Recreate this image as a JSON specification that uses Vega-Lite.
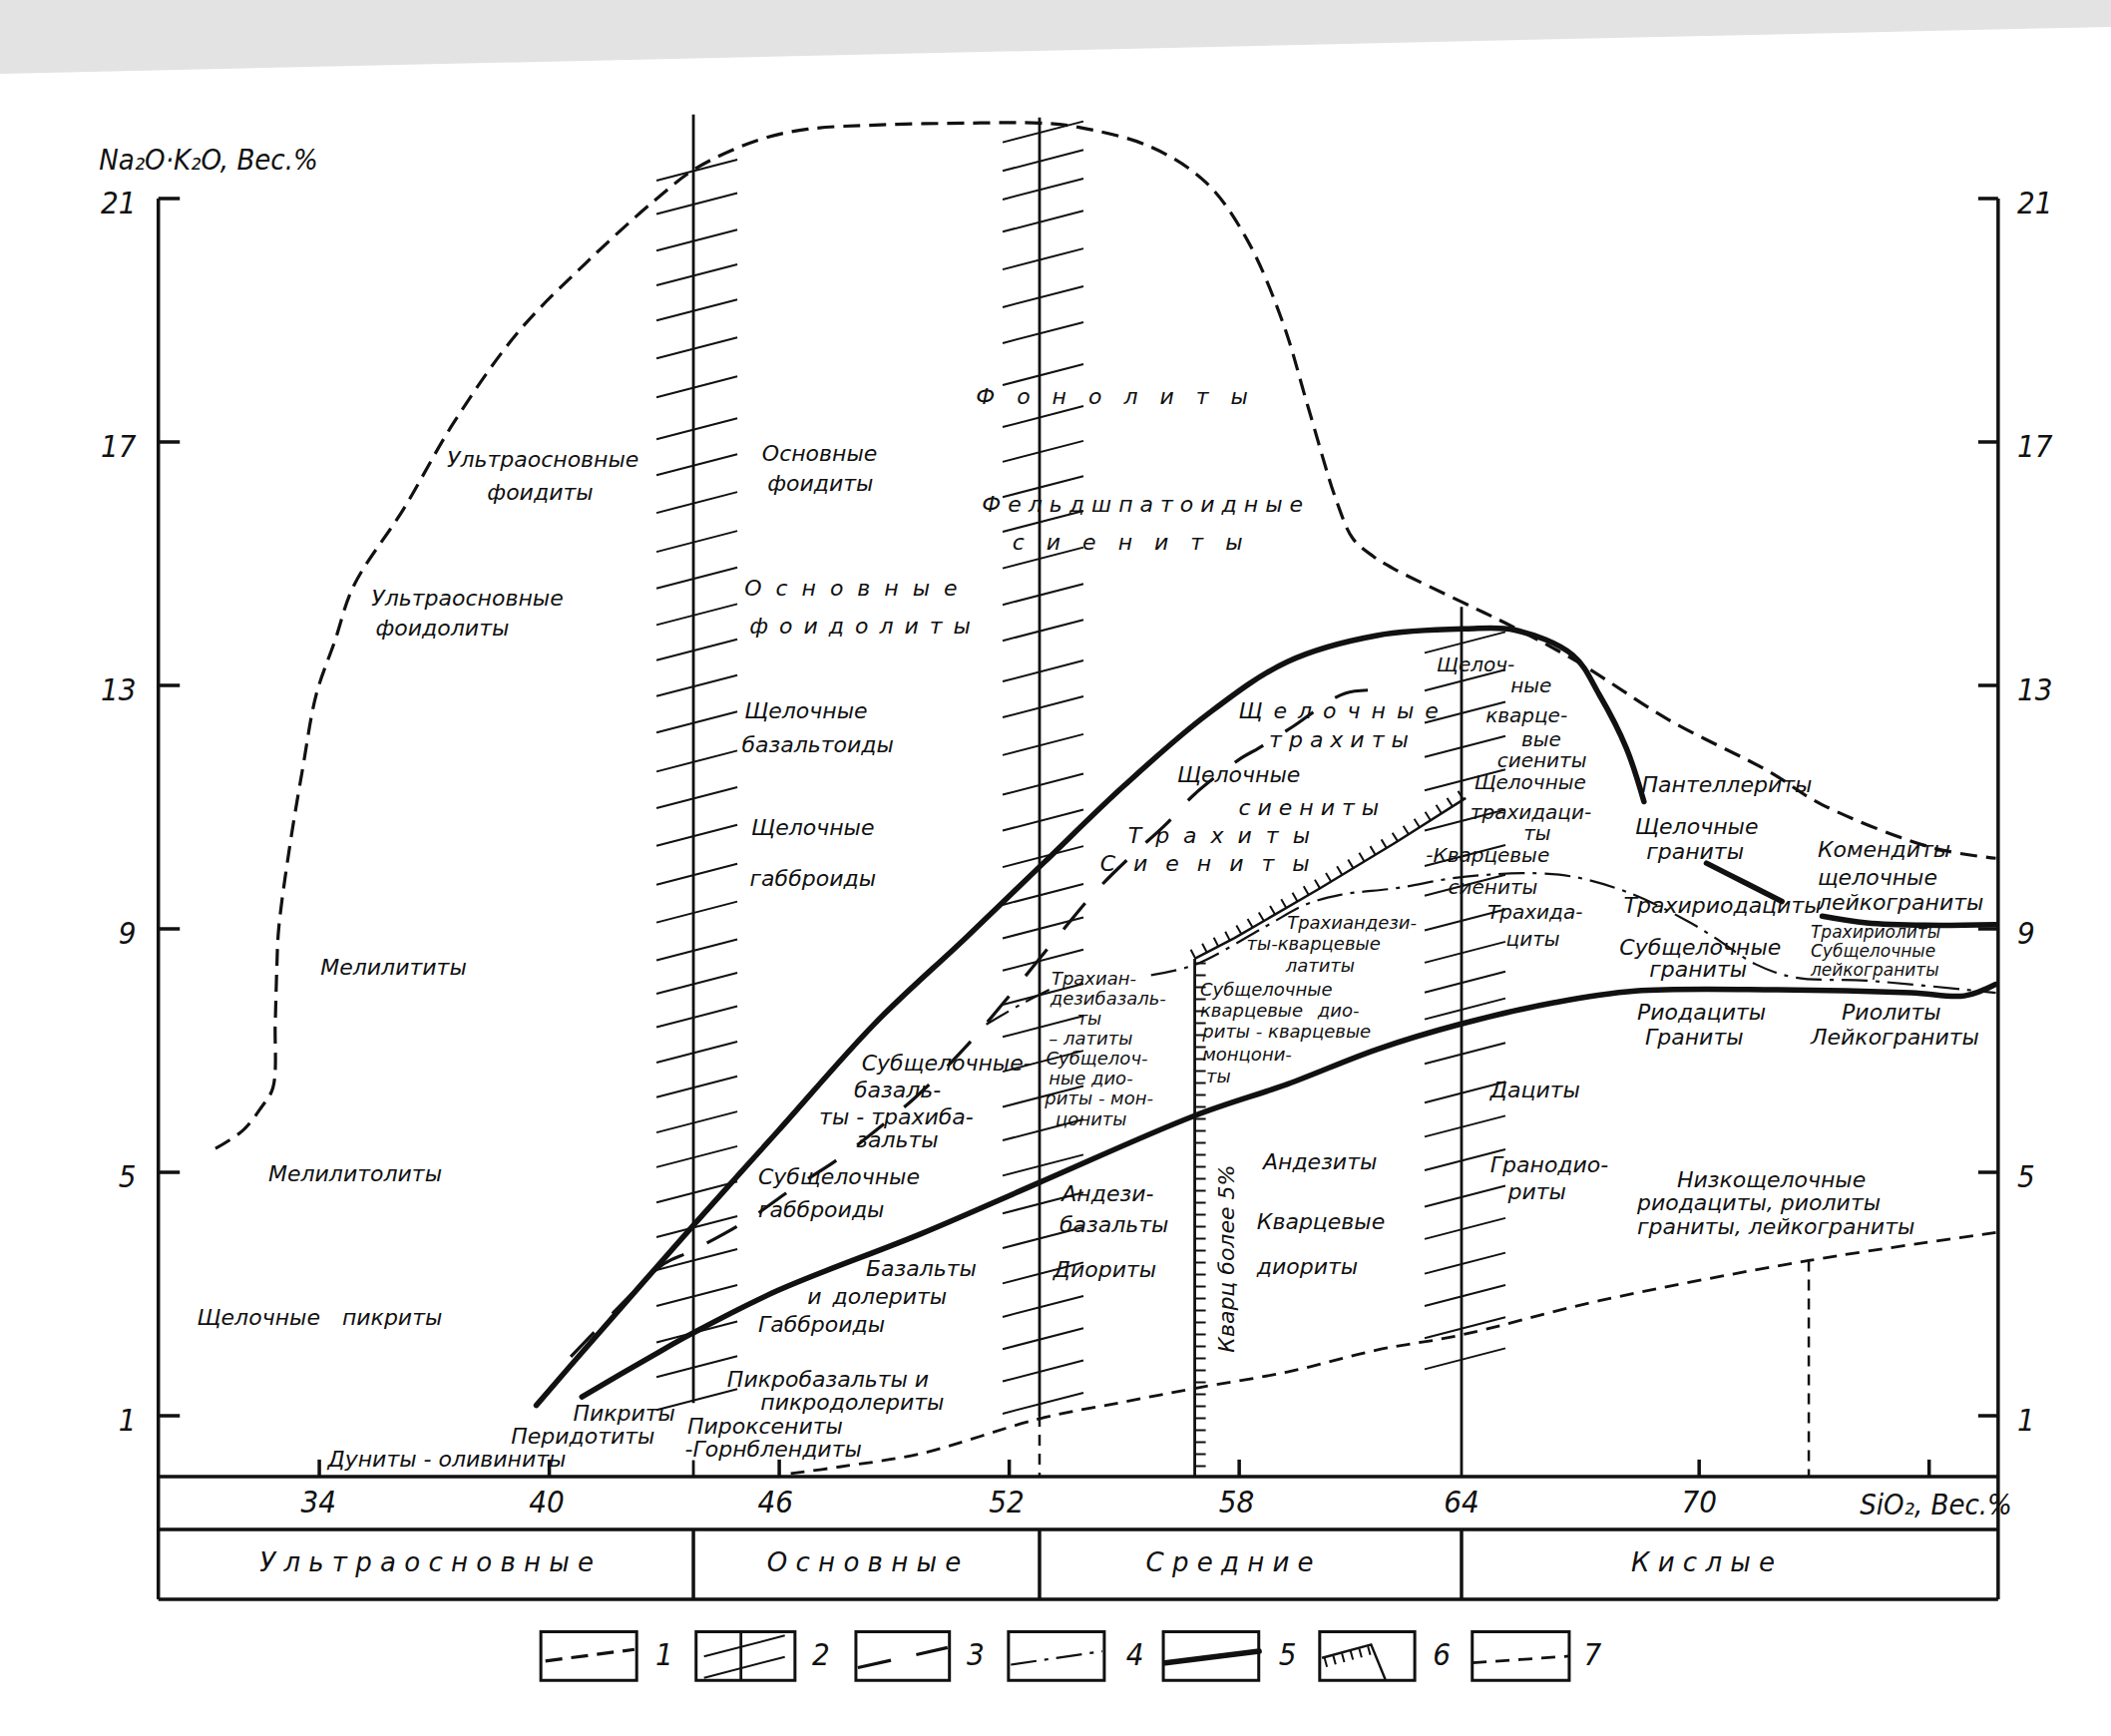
{
  "$schema": "https://vega.github.io/schema/vega-lite/v6.json",
  "width": 2116,
  "height": 1740,
  "autosize": {"type": "none"},
  "padding": 0,
  "background": "white",
  "config": {"view": {"stroke": null}},
  "encoding": {
    "x": {"field": "x", "type": "quantitative", "scale": {"domain": [25.669, 80.745], "nice": false, "zero": false}, "axis": null},
    "y": {"field": "y", "type": "quantitative", "scale": {"domain": [-4.262, 24.262], "nice": false, "zero": false}, "axis": null}
  },
  "datasets": {
    "band": [{"x": 25.669, "y": 23.05}, {"x": 80.745, "y": 23.82}],
    "frame": [
      {"x": 29.8, "y": 21, "x2": 29.8, "y2": -2.016},
      {"x": 77.8, "y": 21, "x2": 77.8, "y2": -2.016},
      {"x": 29.8, "y": 0, "x2": 77.8, "y2": 0},
      {"x": 29.8, "y": -0.869, "x2": 77.8, "y2": -0.869},
      {"x": 29.8, "y": -2.016, "x2": 77.8, "y2": -2.016},
      {"x": 43.76, "y": -0.869, "x2": 43.76, "y2": -2.016},
      {"x": 52.79, "y": -0.869, "x2": 52.79, "y2": -2.016},
      {"x": 63.8, "y": -0.869, "x2": 63.8, "y2": -2.016},
      {"x": 29.8, "y": 1, "x2": 30.36, "y2": 1},
      {"x": 29.8, "y": 5, "x2": 30.36, "y2": 5},
      {"x": 29.8, "y": 9, "x2": 30.36, "y2": 9},
      {"x": 29.8, "y": 13, "x2": 30.36, "y2": 13},
      {"x": 29.8, "y": 17, "x2": 30.36, "y2": 17},
      {"x": 29.8, "y": 21, "x2": 30.36, "y2": 21},
      {"x": 77.28, "y": 1, "x2": 77.8, "y2": 1},
      {"x": 77.28, "y": 5, "x2": 77.8, "y2": 5},
      {"x": 77.28, "y": 9, "x2": 77.8, "y2": 9},
      {"x": 77.28, "y": 13, "x2": 77.8, "y2": 13},
      {"x": 77.28, "y": 17, "x2": 77.8, "y2": 17},
      {"x": 77.28, "y": 21, "x2": 77.8, "y2": 21},
      {"x": 34, "y": 0, "x2": 34, "y2": 0.28},
      {"x": 40, "y": 0, "x2": 40, "y2": 0.28},
      {"x": 46, "y": 0, "x2": 46, "y2": 0.28},
      {"x": 52, "y": 0, "x2": 52, "y2": 0.28},
      {"x": 58, "y": 0, "x2": 58, "y2": 0.28},
      {"x": 70, "y": 0, "x2": 70, "y2": 0.28},
      {"x": 76, "y": 0, "x2": 76, "y2": 0.28}
    ],
    "verticals": [
      {"x": 43.76, "y": 22.38, "y2": 1.21},
      {"x": 43.76, "y": 0, "y2": 0.27},
      {"x": 52.79, "y": 22.33, "y2": 1.0},
      {"x": 56.84, "y": 8.51, "y2": 0},
      {"x": 63.8, "y": 14.29, "y2": 0},
      {"x": 45.0, "y": -2.55, "y2": -3.35}
    ],
    "dverticals": [
      {"x": 52.79, "y": 1.0, "y2": 0},
      {"x": 72.86, "y": 3.55, "y2": 0}
    ],
    "hatches": [
      {"x": 43.76, "y": 21.45}, {"x": 43.76, "y": 20.90}, {"x": 43.76, "y": 20.30}, {"x": 43.76, "y": 19.73}, {"x": 43.76, "y": 19.15},
      {"x": 43.76, "y": 18.53}, {"x": 43.76, "y": 17.89}, {"x": 43.76, "y": 17.20}, {"x": 43.76, "y": 16.61}, {"x": 43.76, "y": 15.99},
      {"x": 43.76, "y": 15.35}, {"x": 43.76, "y": 14.75}, {"x": 43.76, "y": 14.15}, {"x": 43.76, "y": 13.57}, {"x": 43.76, "y": 12.98},
      {"x": 43.76, "y": 12.38}, {"x": 43.76, "y": 11.74}, {"x": 43.76, "y": 11.14}, {"x": 43.76, "y": 10.52}, {"x": 43.76, "y": 9.88},
      {"x": 43.76, "y": 9.26}, {"x": 43.76, "y": 8.64}, {"x": 43.76, "y": 8.09}, {"x": 43.76, "y": 7.54}, {"x": 43.76, "y": 6.96},
      {"x": 43.76, "y": 6.39}, {"x": 43.76, "y": 5.81}, {"x": 43.76, "y": 5.24}, {"x": 43.76, "y": 4.66}, {"x": 43.76, "y": 4.09},
      {"x": 43.76, "y": 3.55}, {"x": 43.76, "y": 2.96}, {"x": 43.76, "y": 2.36}, {"x": 43.76, "y": 1.79}, {"x": 43.76, "y": 1.25},
      {"x": 52.79, "y": 22.08}, {"x": 52.79, "y": 21.61}, {"x": 52.79, "y": 21.14}, {"x": 52.79, "y": 20.61}, {"x": 52.79, "y": 19.99},
      {"x": 52.79, "y": 19.37}, {"x": 52.79, "y": 18.78}, {"x": 52.79, "y": 18.09}, {"x": 52.79, "y": 17.40}, {"x": 52.79, "y": 16.83},
      {"x": 52.79, "y": 16.25}, {"x": 52.79, "y": 15.68}, {"x": 52.79, "y": 15.08}, {"x": 52.79, "y": 14.48}, {"x": 52.79, "y": 13.89},
      {"x": 52.79, "y": 13.22}, {"x": 52.79, "y": 12.63}, {"x": 52.79, "y": 12.01}, {"x": 52.79, "y": 11.36}, {"x": 52.79, "y": 10.77},
      {"x": 52.79, "y": 10.17}, {"x": 52.79, "y": 9.55}, {"x": 52.79, "y": 9.00}, {"x": 52.79, "y": 8.47}, {"x": 52.79, "y": 7.91},
      {"x": 52.79, "y": 7.38}, {"x": 52.79, "y": 6.81}, {"x": 52.79, "y": 6.23}, {"x": 52.79, "y": 5.68}, {"x": 52.79, "y": 5.10},
      {"x": 52.79, "y": 4.48}, {"x": 52.79, "y": 3.91}, {"x": 52.79, "y": 3.33}, {"x": 52.79, "y": 2.78}, {"x": 52.79, "y": 2.25},
      {"x": 52.79, "y": 1.72}, {"x": 52.79, "y": 1.19},
      {"x": 63.8, "y": 13.69}, {"x": 63.8, "y": 13.07}, {"x": 63.8, "y": 12.54}, {"x": 63.8, "y": 11.98}, {"x": 63.8, "y": 11.43},
      {"x": 63.8, "y": 10.77}, {"x": 63.8, "y": 10.19}, {"x": 63.8, "y": 9.70}, {"x": 63.8, "y": 9.13}, {"x": 63.8, "y": 8.60},
      {"x": 63.8, "y": 8.11}, {"x": 63.8, "y": 7.67}, {"x": 63.8, "y": 6.94}, {"x": 63.8, "y": 6.30}, {"x": 63.8, "y": 5.74},
      {"x": 63.8, "y": 5.19}, {"x": 63.8, "y": 4.59}, {"x": 63.8, "y": 4.06}, {"x": 63.8, "y": 3.49}, {"x": 63.8, "y": 2.96},
      {"x": 63.8, "y": 2.43}, {"x": 63.8, "y": 1.92},
      {"x": 45.0, "y": -2.80}, {"x": 45.0, "y": -3.15}
    ],
    "c_outer": [
      {"id": "outer", "i": 0, "x": 31.29, "y": 5.39}, {"id": "outer", "i": 1, "x": 32.01, "y": 5.69},
      {"id": "outer", "i": 2, "x": 32.49, "y": 6.07}, {"id": "outer", "i": 3, "x": 32.79, "y": 6.39},
      {"id": "outer", "i": 4, "x": 32.85, "y": 7.45}, {"id": "outer", "i": 5, "x": 32.89, "y": 8.33},
      {"id": "outer", "i": 6, "x": 32.94, "y": 9.00}, {"id": "outer", "i": 7, "x": 33.22, "y": 10.32},
      {"id": "outer", "i": 8, "x": 33.57, "y": 11.65}, {"id": "outer", "i": 9, "x": 33.92, "y": 12.85},
      {"id": "outer", "i": 10, "x": 34.40, "y": 13.72}, {"id": "outer", "i": 11, "x": 34.90, "y": 14.64},
      {"id": "outer", "i": 12, "x": 36.20, "y": 15.90}, {"id": "outer", "i": 13, "x": 37.51, "y": 17.32},
      {"id": "outer", "i": 14, "x": 39.18, "y": 18.80}, {"id": "outer", "i": 15, "x": 40.97, "y": 19.95},
      {"id": "outer", "i": 16, "x": 42.77, "y": 20.98}, {"id": "outer", "i": 17, "x": 43.84, "y": 21.50},
      {"id": "outer", "i": 18, "x": 45.45, "y": 21.96}, {"id": "outer", "i": 19, "x": 46.74, "y": 22.14},
      {"id": "outer", "i": 20, "x": 48.64, "y": 22.21}, {"id": "outer", "i": 21, "x": 50.96, "y": 22.24},
      {"id": "outer", "i": 22, "x": 52.79, "y": 22.24}, {"id": "outer", "i": 23, "x": 53.73, "y": 22.18},
      {"id": "outer", "i": 24, "x": 55.65, "y": 21.86}, {"id": "outer", "i": 25, "x": 57.14, "y": 21.26},
      {"id": "outer", "i": 26, "x": 58.20, "y": 20.33}, {"id": "outer", "i": 27, "x": 59.14, "y": 18.96},
      {"id": "outer", "i": 28, "x": 59.79, "y": 17.59}, {"id": "outer", "i": 29, "x": 60.55, "y": 16.01},
      {"id": "outer", "i": 30, "x": 60.97, "y": 15.41}, {"id": "outer", "i": 31, "x": 61.50, "y": 15.12},
      {"id": "outer", "i": 32, "x": 62.02, "y": 14.92}, {"id": "outer", "i": 33, "x": 63.81, "y": 14.37},
      {"id": "outer", "i": 34, "x": 64.96, "y": 14.02}, {"id": "outer", "i": 35, "x": 66.82, "y": 13.39},
      {"id": "outer", "i": 36, "x": 69.22, "y": 12.43}, {"id": "outer", "i": 37, "x": 71.81, "y": 11.59},
      {"id": "outer", "i": 38, "x": 73.21, "y": 11.04}, {"id": "outer", "i": 39, "x": 76.11, "y": 10.33},
      {"id": "outer", "i": 40, "x": 77.74, "y": 10.16},
      {"id": "lg1", "i": 0, "x": 39.90, "y": -3.03}, {"id": "lg1", "i": 1, "x": 42.22, "y": -2.84}
    ],
    "c_lower": [
      {"id": "lower", "i": 0, "x": 46.30, "y": 0.05}, {"id": "lower", "i": 1, "x": 47.57, "y": 0.16},
      {"id": "lower", "i": 2, "x": 49.70, "y": 0.38}, {"id": "lower", "i": 3, "x": 52.78, "y": 0.95},
      {"id": "lower", "i": 4, "x": 55.01, "y": 1.23}, {"id": "lower", "i": 5, "x": 56.84, "y": 1.45},
      {"id": "lower", "i": 6, "x": 59.26, "y": 1.72}, {"id": "lower", "i": 7, "x": 61.59, "y": 2.08},
      {"id": "lower", "i": 8, "x": 63.74, "y": 2.32}, {"id": "lower", "i": 9, "x": 67.40, "y": 2.89},
      {"id": "lower", "i": 10, "x": 72.86, "y": 3.55}, {"id": "lower", "i": 11, "x": 77.74, "y": 4.01},
      {"id": "lg7", "i": 0, "x": 64.09, "y": -3.06}, {"id": "lg7", "i": 1, "x": 66.61, "y": -2.95}
    ],
    "c_thick": [
      {"id": "T1", "i": 0, "x": 39.66, "y": 1.17}, {"id": "T1", "i": 1, "x": 40.73, "y": 1.95},
      {"id": "T1", "i": 2, "x": 43.72, "y": 4.10}, {"id": "T1", "i": 3, "x": 45.97, "y": 5.68},
      {"id": "T1", "i": 4, "x": 48.50, "y": 7.45}, {"id": "T1", "i": 5, "x": 50.86, "y": 8.85},
      {"id": "T1", "i": 6, "x": 52.89, "y": 10.08}, {"id": "T1", "i": 7, "x": 55.01, "y": 11.36},
      {"id": "T1", "i": 8, "x": 57.14, "y": 12.51}, {"id": "T1", "i": 9, "x": 59.26, "y": 13.39},
      {"id": "T1", "i": 10, "x": 61.59, "y": 13.82}, {"id": "T1", "i": 11, "x": 63.91, "y": 13.93},
      {"id": "T1", "i": 12, "x": 65.19, "y": 13.91}, {"id": "T1", "i": 13, "x": 66.70, "y": 13.50},
      {"id": "T1", "i": 14, "x": 67.40, "y": 12.84}, {"id": "T1", "i": 15, "x": 68.10, "y": 11.97},
      {"id": "T1", "i": 16, "x": 68.56, "y": 11.09},
      {"id": "T2", "i": 0, "x": 70.19, "y": 10.08}, {"id": "T2", "i": 1, "x": 71.16, "y": 9.77},
      {"id": "T2", "i": 2, "x": 72.16, "y": 9.45},
      {"id": "T3", "i": 0, "x": 73.21, "y": 9.21}, {"id": "T3", "i": 1, "x": 74.37, "y": 9.10},
      {"id": "T3", "i": 2, "x": 75.90, "y": 9.06}, {"id": "T3", "i": 3, "x": 77.74, "y": 9.07},
      {"id": "T4", "i": 0, "x": 40.85, "y": 1.31}, {"id": "T4", "i": 1, "x": 42.65, "y": 1.97},
      {"id": "T4", "i": 2, "x": 43.72, "y": 2.35}, {"id": "T4", "i": 3, "x": 45.97, "y": 3.06},
      {"id": "T4", "i": 4, "x": 49.70, "y": 3.99}, {"id": "T4", "i": 5, "x": 52.78, "y": 4.83},
      {"id": "T4", "i": 6, "x": 56.84, "y": 5.93}, {"id": "T4", "i": 7, "x": 59.26, "y": 6.45},
      {"id": "T4", "i": 8, "x": 61.59, "y": 7.02}, {"id": "T4", "i": 9, "x": 63.74, "y": 7.43},
      {"id": "T4", "i": 10, "x": 66.24, "y": 7.79}, {"id": "T4", "i": 11, "x": 68.33, "y": 7.98},
      {"id": "T4", "i": 12, "x": 72.04, "y": 8.00}, {"id": "T4", "i": 13, "x": 75.53, "y": 7.95},
      {"id": "T4", "i": 14, "x": 76.92, "y": 7.90}, {"id": "T4", "i": 15, "x": 77.74, "y": 8.09},
      {"id": "lg5", "i": 0, "x": 56.07, "y": -3.06}, {"id": "lg5", "i": 1, "x": 58.52, "y": -2.87}
    ],
    "c_long": [
      {"id": "D3", "i": 0, "x": 40.56, "y": 1.97}, {"id": "D3", "i": 1, "x": 42.18, "y": 3.02},
      {"id": "D3", "i": 2, "x": 43.00, "y": 3.50}, {"id": "D3", "i": 3, "x": 43.72, "y": 3.71},
      {"id": "D3", "i": 4, "x": 45.16, "y": 4.21}, {"id": "D3", "i": 5, "x": 46.39, "y": 4.75},
      {"id": "D3", "i": 6, "x": 47.59, "y": 5.24}, {"id": "D3", "i": 7, "x": 49.55, "y": 6.23},
      {"id": "D3", "i": 8, "x": 50.85, "y": 7.05}, {"id": "D3", "i": 9, "x": 51.83, "y": 7.77},
      {"id": "D3", "i": 10, "x": 53.31, "y": 8.91}, {"id": "D3", "i": 11, "x": 54.26, "y": 9.62},
      {"id": "D3", "i": 12, "x": 55.17, "y": 10.19}, {"id": "D3", "i": 13, "x": 56.09, "y": 10.72},
      {"id": "D3", "i": 14, "x": 56.83, "y": 11.21}, {"id": "D3", "i": 15, "x": 58.04, "y": 11.80},
      {"id": "D3", "i": 16, "x": 58.51, "y": 11.97}, {"id": "D3", "i": 17, "x": 59.39, "y": 12.32},
      {"id": "D3", "i": 18, "x": 60.76, "y": 12.87}, {"id": "D3", "i": 19, "x": 61.81, "y": 12.92},
      {"id": "lg3", "i": 0, "x": 48.05, "y": -3.14}, {"id": "lg3", "i": 1, "x": 50.39, "y": -2.81}
    ],
    "c_dashdot": [
      {"id": "D4a", "i": 0, "x": 51.40, "y": 7.43}, {"id": "D4a", "i": 1, "x": 52.36, "y": 7.78},
      {"id": "D4a", "i": 2, "x": 53.20, "y": 8.05},
      {"id": "D4b", "i": 0, "x": 55.70, "y": 8.24}, {"id": "D4b", "i": 1, "x": 56.84, "y": 8.41},
      {"id": "D4b", "i": 2, "x": 58.69, "y": 9.04}, {"id": "D4b", "i": 3, "x": 59.74, "y": 9.40},
      {"id": "D4b", "i": 4, "x": 60.64, "y": 9.56}, {"id": "D4b", "i": 5, "x": 62.11, "y": 9.67},
      {"id": "D4b", "i": 6, "x": 63.91, "y": 9.86}, {"id": "D4b", "i": 7, "x": 66.35, "y": 9.89},
      {"id": "D4b", "i": 8, "x": 68.10, "y": 9.61}, {"id": "D4b", "i": 9, "x": 69.72, "y": 9.12},
      {"id": "D4b", "i": 10, "x": 70.42, "y": 8.85}, {"id": "D4b", "i": 11, "x": 71.47, "y": 8.42},
      {"id": "D4b", "i": 12, "x": 72.51, "y": 8.20}, {"id": "D4b", "i": 13, "x": 74.37, "y": 8.15},
      {"id": "D4b", "i": 14, "x": 77.74, "y": 7.95},
      {"id": "lg4", "i": 0, "x": 52.04, "y": -3.09}, {"id": "lg4", "i": 1, "x": 54.43, "y": -2.87}
    ],
    "c_spine6": [
      {"id": "diag", "i": 0, "x": 56.84, "y": 8.51}, {"id": "diag", "i": 1, "x": 57.88, "y": 8.85},
      {"id": "diag", "i": 2, "x": 60.09, "y": 9.66}, {"id": "diag", "i": 3, "x": 62.11, "y": 10.43},
      {"id": "diag", "i": 4, "x": 63.91, "y": 11.15},
      {"id": "lg6", "i": 0, "x": 60.16, "y": -2.98}, {"id": "lg6", "i": 1, "x": 61.44, "y": -2.76},
      {"id": "lg6", "i": 2, "x": 61.81, "y": -3.33}
    ],
    "c_tickV": [
      {"id": "v57", "i": 0, "x": 56.84, "y": 8.45}, {"id": "v57", "i": 1, "x": 56.84, "y": 0.05}
    ],
    "c_tickD": [
      {"id": "diag", "i": 0, "x": 56.84, "y": 8.51}, {"id": "diag", "i": 1, "x": 57.88, "y": 8.85},
      {"id": "diag", "i": 2, "x": 60.09, "y": 9.66}, {"id": "diag", "i": 3, "x": 62.11, "y": 10.43},
      {"id": "diag", "i": 4, "x": 63.91, "y": 11.15}
    ],
    "c_tickL": [
      {"id": "lg6", "i": 0, "x": 60.2, "y": -2.98}, {"id": "lg6", "i": 1, "x": 61.42, "y": -2.77}
    ],
    "legendBoxes": [
      {"x": 39.78, "x2": 42.28, "y": -2.55, "y2": -3.35},
      {"x": 43.83, "x2": 46.41, "y": -2.55, "y2": -3.35},
      {"x": 48.00, "x2": 50.44, "y": -2.55, "y2": -3.35},
      {"x": 51.98, "x2": 54.48, "y": -2.55, "y2": -3.35},
      {"x": 56.02, "x2": 58.51, "y": -2.55, "y2": -3.35},
      {"x": 60.10, "x2": 62.58, "y": -2.55, "y2": -3.35},
      {"x": 64.08, "x2": 66.61, "y": -2.55, "y2": -3.35}
    ],
    "legendNums": [
      {"x": 43.0, "y": -2.95, "t": "1"}, {"x": 47.09, "y": -2.95, "t": "2"}, {"x": 51.12, "y": -2.95, "t": "3"},
      {"x": 55.28, "y": -2.95, "t": "4"}, {"x": 59.26, "y": -2.95, "t": "5"}, {"x": 63.28, "y": -2.95, "t": "6"},
      {"x": 67.22, "y": -2.95, "t": "7"}
    ],
    "xlab": [
      {"x": 33.98, "y": -0.45, "t": "34"}, {"x": 39.93, "y": -0.45, "t": "40"}, {"x": 45.9, "y": -0.45, "t": "46"},
      {"x": 51.93, "y": -0.45, "t": "52"}, {"x": 57.93, "y": -0.45, "t": "58"}, {"x": 63.8, "y": -0.45, "t": "64"},
      {"x": 70.0, "y": -0.45, "t": "70"}
    ],
    "xtitle": [{"x": 74.19, "y": -0.47, "t": "SiO₂, Вес.%"}],
    "ytitle": [{"x": 28.25, "y": 21.62, "t": "Na₂O·K₂O, Вес.%"}],
    "ylabL": [
      {"x": 29.22, "y": 0.9, "t": "1"}, {"x": 29.22, "y": 4.9, "t": "5"}, {"x": 29.22, "y": 8.9, "t": "9"},
      {"x": 29.22, "y": 12.9, "t": "13"}, {"x": 29.22, "y": 16.9, "t": "17"}, {"x": 29.22, "y": 20.9, "t": "21"}
    ],
    "ylabR": [
      {"x": 78.3, "y": 0.9, "t": "1"}, {"x": 78.3, "y": 4.9, "t": "5"}, {"x": 78.3, "y": 8.9, "t": "9"},
      {"x": 78.3, "y": 12.9, "t": "13"}, {"x": 78.3, "y": 16.9, "t": "17"}, {"x": 78.3, "y": 20.9, "t": "21"}
    ],
    "classLabels": [
      {"x": 36.8, "y": -1.43, "t": "У л ь т р а о с н о в н ы е"},
      {"x": 48.21, "y": -1.43, "t": "О с н о в н ы е"},
      {"x": 57.75, "y": -1.43, "t": "С р е д н и е"},
      {"x": 70.1, "y": -1.43, "t": "К и с л ы е"}
    ],
    "rotLabels": [{"x": 57.69, "y": 3.58, "t": "Кварц более 5%"}],
    "tinyLabels": [
      {"x": 72.91, "y": 8.93, "t": "Трахириолиты"},
      {"x": 72.91, "y": 8.62, "t": "Субщелочные"},
      {"x": 72.91, "y": 8.31, "t": "лейкограниты"}
    ],
    "tightLabels": [
      {"x": 53.10, "y": 8.17, "t": "Трахиан-"},
      {"x": 53.07, "y": 7.84, "t": "дезибазаль-"},
      {"x": 53.77, "y": 7.51, "t": "ты"},
      {"x": 53.03, "y": 7.18, "t": "– латиты"},
      {"x": 52.96, "y": 6.85, "t": "Субщелоч-"},
      {"x": 53.03, "y": 6.52, "t": "ные дио-"},
      {"x": 52.93, "y": 6.19, "t": "риты - мон-"},
      {"x": 53.21, "y": 5.86, "t": "цониты"},
      {"x": 56.98, "y": 7.98, "t": "Субщелочные"},
      {"x": 56.98, "y": 7.64, "t": "кварцевые\u2002 дио-"},
      {"x": 57.04, "y": 7.30, "t": "риты - кварцевые"},
      {"x": 57.04, "y": 6.92, "t": "монцони-"},
      {"x": 57.14, "y": 6.56, "t": "ты"},
      {"x": 59.25, "y": 9.08, "t": "Трахиандези-"},
      {"x": 58.19, "y": 8.73, "t": "ты-кварцевые"},
      {"x": 59.21, "y": 8.38, "t": "латиты"}
    ],
    "midLabels": [
      {"x": 63.15, "y": 13.33, "t": "Щелоч-"},
      {"x": 65.08, "y": 12.98, "t": "ные"},
      {"x": 64.43, "y": 12.49, "t": "кварце-"},
      {"x": 65.36, "y": 12.10, "t": "вые"},
      {"x": 64.73, "y": 11.76, "t": "сиениты"},
      {"x": 64.13, "y": 11.40, "t": "Щелочные"},
      {"x": 64.03, "y": 10.90, "t": "трахидаци-"},
      {"x": 65.42, "y": 10.55, "t": "ты"},
      {"x": 62.87, "y": 10.19, "t": "-Кварцевые"},
      {"x": 63.45, "y": 9.67, "t": "сиениты"},
      {"x": 64.48, "y": 9.26, "t": "Трахида-"},
      {"x": 64.96, "y": 8.82, "t": "циты"}
    ],
    "labels": [
      {"x": 37.33, "y": 16.70, "t": "Ультраосновные"},
      {"x": 38.38, "y": 16.16, "t": "фоидиты"},
      {"x": 35.36, "y": 14.43, "t": "Ультраосновные"},
      {"x": 35.47, "y": 13.93, "t": "фоидолиты"},
      {"x": 45.55, "y": 16.81, "t": "Основные"},
      {"x": 45.69, "y": 16.31, "t": "фоидиты"},
      {"x": 51.13, "y": 17.74, "t": "Ф\u2003о\u2003н\u2003о\u2003л\u2003и\u2003т\u2003ы"},
      {"x": 51.29, "y": 15.97, "t": "Ф е л ь д ш п а т о и д н ы е"},
      {"x": 52.08, "y": 15.35, "t": "с\u2003и\u2003е\u2003н\u2003и\u2003т\u2003ы"},
      {"x": 45.09, "y": 14.59, "t": "О \u00a0с \u00a0н \u00a0о \u00a0в \u00a0н \u00a0ы \u00a0е"},
      {"x": 45.22, "y": 13.96, "t": "ф\u2002о\u2002и\u2002д\u2002о\u2002л\u2002и\u2002т\u2002ы"},
      {"x": 45.09, "y": 12.58, "t": "Щелочные"},
      {"x": 45.02, "y": 12.01, "t": "базальтоиды"},
      {"x": 45.27, "y": 10.66, "t": "Щелочные"},
      {"x": 45.23, "y": 9.82, "t": "габброиды"},
      {"x": 34.03, "y": 8.36, "t": "Мелилититы"},
      {"x": 32.67, "y": 4.97, "t": "Мелилитолиты"},
      {"x": 30.81, "y": 2.60, "t": "Щелочные\u2003пикриты"},
      {"x": 40.62, "y": 1.03, "t": "Пикриты"},
      {"x": 39.00, "y": 0.66, "t": "Перидотиты"},
      {"x": 34.22, "y": 0.28, "t": "Дуниты - оливиниты"},
      {"x": 44.64, "y": 1.59, "t": "Пикробазальты  и"},
      {"x": 45.51, "y": 1.21, "t": "пикродолериты"},
      {"x": 43.60, "y": 0.82, "t": "Пироксениты"},
      {"x": 43.54, "y": 0.45, "t": "-Горнблендиты"},
      {"x": 45.45, "y": 2.49, "t": "Габброиды"},
      {"x": 48.26, "y": 3.41, "t": "Базальты"},
      {"x": 46.73, "y": 2.95, "t": "и\u2002долериты"},
      {"x": 45.45, "y": 4.92, "t": "Субщелочные"},
      {"x": 45.45, "y": 4.37, "t": "габброиды"},
      {"x": 48.15, "y": 6.78, "t": "Субщелочные-"},
      {"x": 47.95, "y": 6.34, "t": "базаль-"},
      {"x": 47.04, "y": 5.90, "t": "ты - трахиба-"},
      {"x": 48.01, "y": 5.52, "t": "зальты"},
      {"x": 53.37, "y": 4.64, "t": "Андези-"},
      {"x": 53.31, "y": 4.13, "t": "базальты"},
      {"x": 53.15, "y": 3.39, "t": "Диориты"},
      {"x": 58.62, "y": 5.16, "t": "Андезиты"},
      {"x": 58.46, "y": 4.18, "t": "Кварцевые"},
      {"x": 58.46, "y": 3.44, "t": "диориты"},
      {"x": 68.50, "y": 11.36, "t": "Пантеллериты"},
      {"x": 68.33, "y": 10.68, "t": "Щелочные"},
      {"x": 68.62, "y": 10.27, "t": "граниты"},
      {"x": 73.09, "y": 10.30, "t": "Комендиты"},
      {"x": 73.09, "y": 9.84, "t": "щелочные"},
      {"x": 73.09, "y": 9.43, "t": "лейкограниты"},
      {"x": 68.03, "y": 9.37, "t": "Трахириодациты"},
      {"x": 67.92, "y": 8.69, "t": "Субщелочные"},
      {"x": 68.70, "y": 8.32, "t": "граниты"},
      {"x": 68.38, "y": 7.63, "t": "Риодациты"},
      {"x": 68.59, "y": 7.21, "t": "Граниты"},
      {"x": 73.72, "y": 7.63, "t": "Риолиты"},
      {"x": 72.91, "y": 7.21, "t": "Лейкограниты"},
      {"x": 64.55, "y": 6.34, "t": "Дациты"},
      {"x": 64.55, "y": 5.11, "t": "Гранодио-"},
      {"x": 65.01, "y": 4.67, "t": "риты"},
      {"x": 69.42, "y": 4.87, "t": "Низкощелочные"},
      {"x": 68.38, "y": 4.49, "t": "риодациты, риолиты"},
      {"x": 68.38, "y": 4.10, "t": "граниты, лейкограниты"},
      {"x": 57.98, "y": 12.57, "t": "Щ\u2002е\u2002л\u2002о\u2002ч\u2002н\u2002ы\u2002е"},
      {"x": 58.78, "y": 12.10, "t": "т р а х и т ы"},
      {"x": 56.38, "y": 11.53, "t": "Щелочные"},
      {"x": 57.98, "y": 10.99, "t": "с и е н и т ы"},
      {"x": 55.10, "y": 10.52, "t": "Т \u00a0р \u00a0а \u00a0х \u00a0и \u00a0т \u00a0ы"},
      {"x": 54.37, "y": 10.06, "t": "С\u2002\u00a0и\u2002\u00a0е\u2002\u00a0н\u2002\u00a0и\u2002\u00a0т\u2002\u00a0ы"}
    ]
  },
  "layer": [
    {"data": {"name": "band"}, "mark": {"type": "area", "color": "#e3e3e3"}, "encoding": {"y2": {"datum": 24.262}}},
    {"data": {"name": "legendBoxes"}, "mark": {"type": "rect", "fill": "white", "stroke": "#111", "strokeWidth": 3}, "encoding": {"x2": {"field": "x2"}, "y2": {"field": "y2"}}},
    {"data": {"name": "frame"}, "mark": {"type": "rule", "color": "#111", "strokeWidth": 3.5}, "encoding": {"x2": {"field": "x2"}, "y2": {"field": "y2"}}},
    {"data": {"name": "verticals"}, "mark": {"type": "rule", "color": "#111", "strokeWidth": 2.8}, "encoding": {"y2": {"field": "y2"}}},
    {"data": {"name": "dverticals"}, "mark": {"type": "rule", "color": "#111", "strokeWidth": 2.5, "strokeDash": [11, 8]}, "encoding": {"y2": {"field": "y2"}}},
    {"data": {"name": "hatches"}, "mark": {"type": "rule", "color": "#111", "strokeWidth": 2, "xOffset": -37, "yOffset": 9.5, "x2Offset": 44, "y2Offset": -11.5}, "encoding": {"x2": {"field": "x"}, "y2": {"field": "y"}}},
    {"data": {"name": "c_outer"}, "mark": {"type": "line", "color": "#111", "strokeWidth": 3.2, "strokeDash": [17, 9], "interpolate": "catmull-rom"}, "encoding": {"detail": {"field": "id", "type": "nominal"}, "order": {"field": "i", "type": "quantitative"}}},
    {"data": {"name": "c_lower"}, "mark": {"type": "line", "color": "#111", "strokeWidth": 2.8, "strokeDash": [14, 9], "interpolate": "catmull-rom"}, "encoding": {"detail": {"field": "id", "type": "nominal"}, "order": {"field": "i", "type": "quantitative"}}},
    {"data": {"name": "c_thick"}, "mark": {"type": "line", "color": "#111", "strokeWidth": 5.5, "interpolate": "catmull-rom", "strokeCap": "round"}, "encoding": {"detail": {"field": "id", "type": "nominal"}, "order": {"field": "i", "type": "quantitative"}}},
    {"data": {"name": "c_long"}, "mark": {"type": "line", "color": "#111", "strokeWidth": 3.2, "strokeDash": [34, 26], "interpolate": "catmull-rom"}, "encoding": {"detail": {"field": "id", "type": "nominal"}, "order": {"field": "i", "type": "quantitative"}}},
    {"data": {"name": "c_dashdot"}, "mark": {"type": "line", "color": "#111", "strokeWidth": 2.2, "strokeDash": [26, 8, 4, 8], "interpolate": "catmull-rom"}, "encoding": {"detail": {"field": "id", "type": "nominal"}, "order": {"field": "i", "type": "quantitative"}}},
    {"data": {"name": "c_spine6"}, "mark": {"type": "line", "color": "#111", "strokeWidth": 2.5, "interpolate": "linear"}, "encoding": {"detail": {"field": "id", "type": "nominal"}, "order": {"field": "i", "type": "quantitative"}}},
    {"data": {"name": "c_tickV"}, "mark": {"type": "line", "color": "#111", "strokeWidth": 11, "strokeDash": [2, 10], "strokeCap": "butt", "xOffset": 5.5}, "encoding": {"detail": {"field": "id", "type": "nominal"}, "order": {"field": "i", "type": "quantitative"}}},
    {"data": {"name": "c_tickD"}, "mark": {"type": "line", "color": "#111", "strokeWidth": 10, "strokeDash": [2, 11], "strokeCap": "butt", "xOffset": -2.6, "yOffset": -4.3, "interpolate": "linear"}, "encoding": {"detail": {"field": "id", "type": "nominal"}, "order": {"field": "i", "type": "quantitative"}}},
    {"data": {"name": "c_tickL"}, "mark": {"type": "line", "color": "#111", "strokeWidth": 9, "strokeDash": [2, 7], "strokeCap": "butt", "xOffset": 1.3, "yOffset": 4.8}, "encoding": {"detail": {"field": "id", "type": "nominal"}, "order": {"field": "i", "type": "quantitative"}}},
    {"data": {"name": "labels"}, "mark": {"type": "text", "font": "DejaVu Sans", "fontStyle": "italic", "fontSize": 22, "align": "left", "baseline": "middle", "color": "#111"}, "encoding": {"text": {"field": "t"}}},
    {"data": {"name": "midLabels"}, "mark": {"type": "text", "font": "DejaVu Sans", "fontStyle": "italic", "fontSize": 20, "align": "left", "baseline": "middle", "color": "#111"}, "encoding": {"text": {"field": "t"}}},
    {"data": {"name": "tightLabels"}, "mark": {"type": "text", "font": "DejaVu Sans", "fontStyle": "italic", "fontSize": 18, "align": "left", "baseline": "middle", "color": "#111"}, "encoding": {"text": {"field": "t"}}},
    {"data": {"name": "tinyLabels"}, "mark": {"type": "text", "font": "DejaVu Sans", "fontStyle": "italic", "fontSize": 17, "align": "left", "baseline": "middle", "color": "#111"}, "encoding": {"text": {"field": "t"}}},
    {"data": {"name": "rotLabels"}, "mark": {"type": "text", "font": "DejaVu Sans", "fontStyle": "italic", "fontSize": 22, "align": "center", "baseline": "middle", "angle": 270, "color": "#111"}, "encoding": {"text": {"field": "t"}}},
    {"data": {"name": "classLabels"}, "mark": {"type": "text", "font": "DejaVu Sans", "fontStyle": "italic", "fontSize": 26, "align": "center", "baseline": "middle", "color": "#111"}, "encoding": {"text": {"field": "t"}}},
    {"data": {"name": "xlab"}, "mark": {"type": "text", "font": "Liberation Sans Narrow, DejaVu Sans Condensed, sans-serif", "fontStyle": "italic", "fontSize": 31, "align": "center", "baseline": "middle", "color": "#111"}, "encoding": {"text": {"field": "t"}}},
    {"data": {"name": "xtitle"}, "mark": {"type": "text", "font": "Liberation Sans Narrow, DejaVu Sans Condensed, sans-serif", "fontStyle": "italic", "fontSize": 29, "align": "left", "baseline": "middle", "color": "#111"}, "encoding": {"text": {"field": "t"}}},
    {"data": {"name": "ytitle"}, "mark": {"type": "text", "font": "Liberation Sans Narrow, DejaVu Sans Condensed, sans-serif", "fontStyle": "italic", "fontSize": 29, "align": "left", "baseline": "middle", "color": "#111"}, "encoding": {"text": {"field": "t"}}},
    {"data": {"name": "ylabL"}, "mark": {"type": "text", "font": "Liberation Sans Narrow, DejaVu Sans Condensed, sans-serif", "fontStyle": "italic", "fontSize": 31, "align": "right", "baseline": "middle", "color": "#111"}, "encoding": {"text": {"field": "t"}}},
    {"data": {"name": "ylabR"}, "mark": {"type": "text", "font": "Liberation Sans Narrow, DejaVu Sans Condensed, sans-serif", "fontStyle": "italic", "fontSize": 31, "align": "left", "baseline": "middle", "color": "#111"}, "encoding": {"text": {"field": "t"}}},
    {"data": {"name": "legendNums"}, "mark": {"type": "text", "font": "Liberation Sans Narrow, DejaVu Sans Condensed, sans-serif", "fontStyle": "italic", "fontSize": 31, "align": "center", "baseline": "middle", "color": "#111"}, "encoding": {"text": {"field": "t"}}}
  ]
}
